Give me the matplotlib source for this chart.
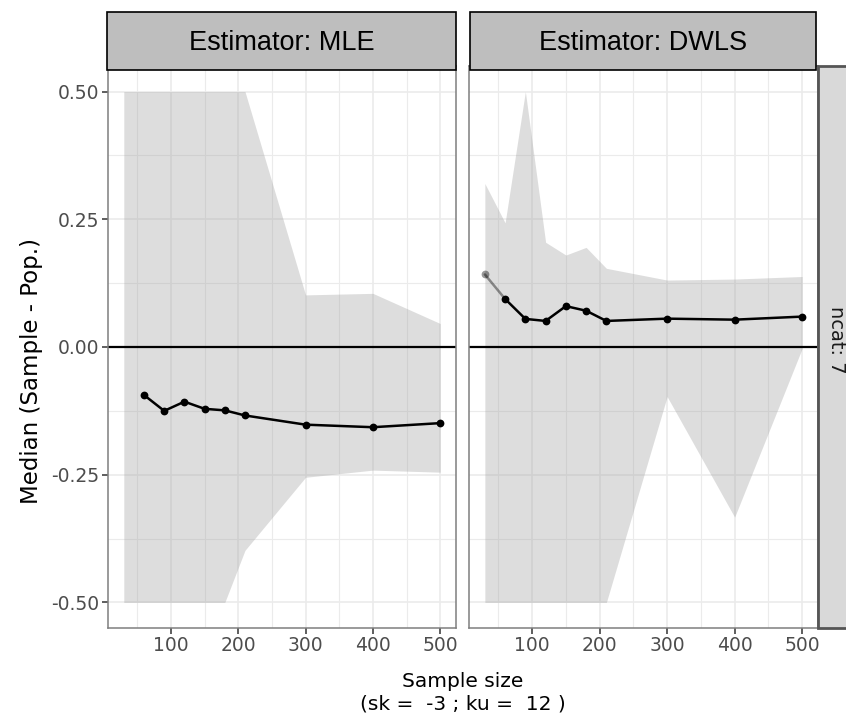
import matplotlib
matplotlib.use("Agg")
import matplotlib.pyplot as plt
from matplotlib.patches import Rectangle
from matplotlib.ticker import MultipleLocator

# ---- data ----
estimators = ["MLE", "DWLS"]
ribbon_n = [30, 60, 90, 120, 150, 180, 210, 300, 400, 500]

mle_n = [60, 90, 120, 150, 180, 210, 300, 400, 500]
mle_median = [-0.094, -0.125, -0.107, -0.121, -0.124, -0.134, -0.152, -0.157, -0.149]
mle_upper = [0.5, 0.5, 0.5, 0.5, 0.5, 0.5, 0.5, 0.102, 0.105, 0.046]
mle_lower = [-0.5, -0.5, -0.5, -0.5, -0.5, -0.5, -0.398, -0.255, -0.241, -0.245]

dwls_n = [30, 60, 90, 120, 150, 180, 210, 300, 400, 500]
dwls_median = [0.142, 0.094, 0.055, 0.051, 0.080, 0.071, 0.051, 0.0555, 0.0535, 0.0595]
dwls_alpha = [0.4, 1, 1, 1, 1, 1, 1, 1, 1, 1]
dwls_upper = [0.32, 0.243, 0.5, 0.205, 0.18, 0.195, 0.154, 0.131, 0.133, 0.138]
dwls_lower = [-0.5, -0.5, -0.5, -0.5, -0.5, -0.5, -0.5, -0.097, -0.333, -0.003]

x_ticks = [100, 200, 300, 400, 500]
y_ticks = [-0.50, -0.25, 0.00, 0.25, 0.50]
y_ticklabels = ["-0.50", "-0.25", "0.00", "0.25", "0.50"]
ncat_label = "ncat: 7"
x_title = "Sample size\n(sk =  -3 ; ku =  12 )"
y_title = "Median (Sample - Pop.)"

plt.rcParams["font.family"] = ["DejaVu Sans"]

W, H = 846, 720
fig = plt.figure(figsize=(W / 100, H / 100), dpi=100)

def fx(px):
    return px / W

def fy(py):
    return 1 - py / H

panels = [(108, 456), (469, 818)]
ptop, pbot = 66, 628

series = [
    (mle_n, mle_median, [1] * len(mle_n), mle_upper, mle_lower),
    (dwls_n, dwls_median, dwls_alpha, dwls_upper, dwls_lower),
]

axes = []
for i, ((xl, xr), est, (n, med, alp, up, lo)) in enumerate(zip(panels, estimators, series)):
    ax = fig.add_axes([fx(xl), fy(pbot), (xr - xl) / W, (pbot - ptop) / H])
    axes.append(ax)
    ax.set_xlim(6.5, 523.5)
    ax.set_ylim(-0.55, 0.55)
    ax.set_xticks(x_ticks)
    ax.xaxis.set_minor_locator(MultipleLocator(50))
    ax.yaxis.set_minor_locator(MultipleLocator(0.125))
    ax.set_yticks(y_ticks)
    ax.grid(True, which="major", color="#EBEBEB", linewidth=1.2)
    ax.grid(True, which="minor", color="#EBEBEB", linewidth=0.8)
    ax.set_axisbelow(True)
    ax.tick_params(which="minor", length=0)
    ax.tick_params(which="major", length=4, width=1.1, color="#333333",
                   labelsize=13.5, labelcolor="#4D4D4D", pad=2)
    if i == 0:
        ax.set_yticklabels(y_ticklabels)
    else:
        ax.tick_params(axis="y", which="major", length=0, labelleft=False)
    for s in ax.spines.values():
        s.set_color("#7F7F7F")
        s.set_linewidth(1.1)

    ax.fill_between(ribbon_n, lo, up, color="#999999", alpha=0.33, linewidth=0, zorder=1)
    ax.axhline(0, color="black", linewidth=1.6, zorder=2)
    for k in range(len(n) - 1):
        ax.plot(n[k:k + 2], med[k:k + 2], color="black", alpha=alp[k], linewidth=1.8,
                solid_capstyle="round", zorder=3)
    for k in range(len(n)):
        ax.plot([n[k]], [med[k]], "o", color="black", alpha=alp[k], markersize=5.6,
                markeredgewidth=0, zorder=4)

    # top strip
    sx0, sx1 = (107, 456) if i == 0 else (470, 816)
    fig.patches.append(Rectangle((fx(sx0), fy(70)), (sx1 - sx0) / W, 58 / H,
                                 transform=fig.transFigure, facecolor="#BEBEBE",
                                 edgecolor="black", linewidth=1.2, zorder=5))
    fig.text(fx((sx0 + sx1) / 2), fy(43), f"Estimator: {est}", ha="center", va="center",
             fontsize=19.5, family=["Liberation Sans", "DejaVu Sans"], color="black", zorder=6)

# right strip (cut off at image edge)
fig.patches.append(Rectangle((fx(818), fy(pbot)), 60 / W, (pbot - ptop) / H,
                             transform=fig.transFigure, facecolor="#D9D9D9",
                             edgecolor="#555555", linewidth=2.0, zorder=5))
fig.text(fx(836), fy(340), ncat_label, rotation=-90, ha="center", va="center",
         fontsize=14, color="#1A1A1A", zorder=6)

fig.text(fx(463), fy(693), x_title, ha="center", va="center", fontsize=14.5,
         color="black", linespacing=1.25)
fig.text(fx(32), fy(371), y_title, rotation=90, ha="center", va="center",
         fontsize=16.5, color="black")

fig.savefig("out.png", dpi=100)
